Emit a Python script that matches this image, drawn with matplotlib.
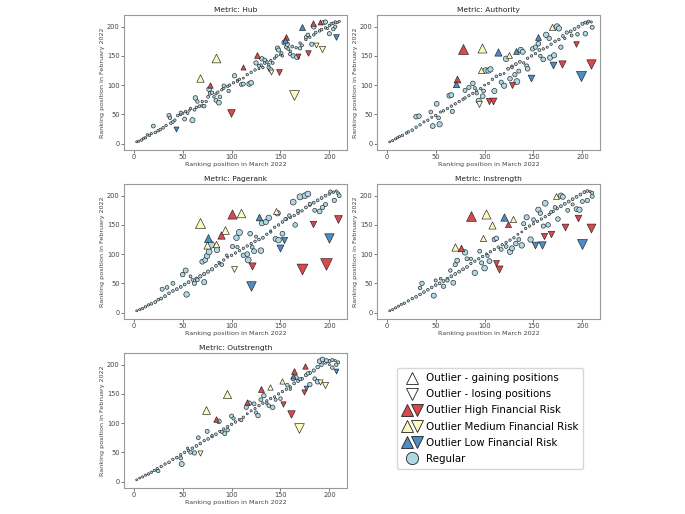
import matplotlib
matplotlib.use("Agg")
import matplotlib.pyplot as plt
from matplotlib.lines import Line2D
from matplotlib.legend_handler import HandlerTuple
import numpy as np

# ---------------- DATA ----------------
metrics = ["Hub", "Authority", "Pagerank", "Instrength", "Outstrength"]

# Regular points (March rank, February rank)
hub_reg = [(3,3),(5,4),(8,6),(10,9),(12,10),(14,15),(16,14),(18,17),(22,19),(25,22),(27,24),(30,27),(33,31),(38,35),(40,37),(42,40),(45,48),(48,50),(50,52),(53,55),(55,52),(58,60),(62,58),(64,62),(67,64),(70,72),(74,72),(76,80),(82,80),(84,85),(86,88),(90,92),(92,95),(96,98),(98,100),(102,104),(106,108),(108,110),(112,112),(116,118),(120,122),(124,126),(128,128),(130,134),(132,130),(134,138),(136,140),(138,135),(140,142),(142,138),(144,146),(146,150),(150,152),(152,150),(156,165),(158,162),(160,158),(162,166),(166,164),(170,172),(172,168),(176,178),(180,182),(184,186),(186,190),(190,193),(192,195),(196,198),(198,197),(200,202),(202,205),(204,206),(206,208),(208,207),(210,209),
           (20,30),(36,48),(37,44),(52,42),(60,40),(48,53),(57,57),(63,78),(65,72),(70,65),(72,64),(77,93),(78,86),(80,87),(84,74),(87,70),(88,80),(92,99),(97,90),(103,116),(106,106),(110,101),(112,102),(118,102),(120,104),(125,138),(128,133),(131,145),(134,143),(138,130),(140,126),(147,163),(148,160),(151,155),(154,173),(157,170),(160,153),(163,150),(167,148),(170,163),(176,182),(178,186),(182,170),(184,200),(194,207),(196,208),(200,188),(204,196),(206,200)]
auth_reg = [(3,3),(6,5),(9,8),(11,10),(13,12),(16,14),(20,18),(22,20),(26,23),(30,28),(34,32),(38,37),(42,40),(46,45),(50,48),(55,54),(58,56),(62,60),(66,64),(70,68),(74,72),(78,76),(80,78),(84,82),(88,86),(92,90),(96,94),(100,100),(104,103),(108,110),(112,115),(116,118),(120,120),(124,128),(128,132),(132,136),(136,140),(140,138),(144,146),(148,150),(152,154),(156,160),(160,162),(164,165),(168,170),(172,175),(176,178),(180,184),(184,190),(188,192),(192,196),(196,200),(200,205),(203,207),(206,209),(209,208),
            (30,46),(33,47),(45,54),(47,30),(51,68),(53,44),(54,33),(64,82),(66,83),(67,55),(80,91),(84,96),(88,103),(90,95),(92,86),(94,73),(98,81),(99,90),(101,125),(104,125),(106,127),(110,90),(117,105),(120,99),(122,145),(126,111),(128,130),(131,118),(133,106),(135,124),(137,160),(139,157),(143,133),(144,128),(149,162),(152,165),(155,171),(157,150),(160,144),(163,186),(166,180),(167,147),(171,151),(174,200),(176,197),(178,165),(182,180),(189,185),(195,187),(203,188),(205,206),(210,199)]
page_reg = [(3,3),(6,5),(9,7),(12,10),(15,13),(18,15),(22,18),(25,22),(28,24),(32,28),(36,33),(40,37),(44,40),(48,44),(52,48),(56,52),(60,56),(64,58),(68,62),(72,66),(76,70),(80,74),(84,80),(88,84),(92,90),(96,95),(100,98),(104,102),(108,106),(112,110),(116,114),(120,118),(124,122),(128,125),(132,128),(136,134),(140,138),(144,146),(148,150),(152,155),(156,160),(160,163),(164,166),(168,170),(172,174),(176,180),(180,184),(184,188),(188,192),(192,196),(196,200),(200,203),(204,206),(207,208),(209,204),
            (29,40),(34,43),(40,50),(50,65),(53,72),(54,31),(58,62),(62,50),(65,56),(70,87),(72,52),(73,90),(75,97),(77,104),(79,116),(85,107),(87,86),(90,82),(95,98),(101,113),(105,128),(108,137),(106,112),(112,98),(117,90),(116,100),(119,135),(121,112),(123,105),(125,130),(130,106),(131,153),(135,155),(138,162),(140,140),(145,126),(148,124),(147,170),(152,135),(155,160),(159,166),(163,189),(165,150),(168,174),(170,198),(175,200),(178,203),(180,186),(185,175),(190,173),(193,180),(196,185),(201,207),(205,192),(210,200)]
inst_reg = [(3,3),(6,5),(9,8),(12,11),(15,14),(18,16),(22,20),(26,24),(30,27),(34,31),(38,35),(42,39),(46,43),(50,47),(54,50),(58,54),(62,58),(66,62),(70,66),(74,70),(78,74),(82,78),(86,84),(90,88),(94,92),(98,96),(102,100),(106,104),(110,108),(114,112),(118,116),(122,120),(126,124),(130,128),(134,134),(138,138),(142,144),(146,148),(150,152),(154,156),(158,160),(162,164),(166,168),(170,173),(174,178),(178,182),(182,186),(186,190),(190,194),(194,198),(198,202),(202,206),(205,208),(208,207),(210,205),
            (36,50),(34,42),(48,29),(50,55),(55,58),(58,45),(62,55),(65,72),(68,51),(70,82),(72,89),(80,103),(82,92),(86,92),(90,68),(95,105),(97,85),(100,76),(103,97),(105,88),(110,125),(112,127),(117,108),(122,113),(126,104),(128,110),(132,118),(135,125),(138,115),(140,152),(143,163),(147,125),(150,159),(155,176),(157,170),(162,187),(160,148),(165,150),(168,172),(172,180),(175,160),(178,200),(180,198),(185,175),(190,185),(194,177),(197,176),(200,190),(205,192),(210,199)]
outs_reg = [(3,3),(6,6),(9,8),(12,11),(15,13),(18,16),(21,19),(24,22),(28,26),(32,30),(36,33),(40,38),(44,41),(48,46),(52,50),(56,53),(60,57),(64,61),(68,65),(72,70),(76,73),(80,77),(84,81),(88,86),(92,90),(96,94),(100,98),(104,102),(108,106),(112,110),(116,116),(120,121),(124,125),(128,130),(132,134),(136,138),(140,142),(144,145),(148,150),(152,154),(156,158),(160,162),(164,168),(168,172),(172,176),(176,182),(180,186),(184,190),(188,196),(192,200),(196,204),(200,206),(203,208),(206,207),(209,204),
            (25,18),(49,30),(48,40),(55,57),(58,50),(62,49),(66,75),(75,86),(80,79),(87,103),(90,85),(93,82),(96,88),(100,112),(102,108),(110,105),(115,127),(118,134),(123,133),(125,118),(127,113),(130,140),(133,147),(136,134),(138,130),(142,127),(145,140),(150,142),(157,165),(160,158),(163,176),(166,178),(170,175),(178,185),(180,166),(185,176),(188,171),(190,206),(193,209),(197,207),(200,200),(203,195),(207,200)]

# Outliers: (March rank, February rank, risk)  H=High, M=Medium, L=Low
hub_out = [(172,200,"L"),(183,206,"H"),(190,208,"H"),(156,182,"H"),(155,178,"L"),(168,150,"H"),(178,155,"H"),(186,168,"M"),(192,161,"M"),(207,183,"L"),
           (84,146,"M"),(68,113,"M"),(78,100,"H"),(99,52,"H"),(164,83,"M"),(43,25,"L"),(112,131,"H"),(126,152,"H"),(140,122,"M"),(148,122,"H")]
auth_out = [(78,161,"H"),(97,164,"M"),(96,126,"M"),(114,156,"L"),(125,151,"M"),(132,158,"L"),(155,182,"L"),(169,199,"M"),(72,110,"H"),(71,102,"L"),
            (94,67,"M"),(105,73,"H"),(109,72,"H"),(128,100,"H"),(147,112,"L"),(170,134,"L"),(179,137,"H"),(193,170,"H"),(199,115,"L"),(209,136,"H")]
page_out = [(68,153,"M"),(110,170,"M"),(100,169,"H"),(128,163,"L"),(145,174,"M"),(76,128,"L"),(89,132,"H"),(93,141,"M"),(75,115,"M"),(84,117,"M"),
            (102,75,"M"),(121,80,"H"),(120,45,"L"),(149,110,"L"),(154,124,"L"),(172,75,"H"),(197,83,"H"),(200,127,"L"),(183,151,"H"),(209,160,"H")]
inst_out = [(86,166,"H"),(101,169,"M"),(108,149,"M"),(98,128,"M"),(120,163,"L"),(129,160,"M"),(124,152,"H"),(70,113,"M"),(76,110,"H"),(173,200,"M"),
            (112,85,"H"),(115,75,"H"),(152,116,"L"),(159,115,"L"),(161,131,"H"),(168,135,"H"),(182,146,"H"),(196,162,"H"),(200,117,"L"),(209,145,"H")]
outs_out = [(74,123,"M"),(95,150,"M"),(84,107,"H"),(116,137,"H"),(130,158,"H"),(139,161,"M"),(152,172,"M"),(164,190,"H"),(175,197,"H"),(163,181,"L"),
            (68,49,"M"),(153,132,"H"),(161,116,"H"),(169,91,"M"),(174,154,"H"),(176,160,"L"),(190,170,"M"),(195,165,"M"),(207,190,"L")]

regular = [hub_reg, auth_reg, page_reg, inst_reg, outs_reg]
outliers = [hub_out, auth_out, page_out, inst_out, outs_out]

ticks = [0, 50, 100, 150, 200]
xlabel = "Ranking position in March 2022"
ylabel = "Ranking position in February 2022"

# ---------------- STYLE ----------------
risk_colors = {"H": "#d9494b", "M": "#fdf9bd", "L": "#4e8cc6"}
reg_color = "#add8e6"
edge = "#222222"

def size_of(x, y):
    return 2 + 0.6 * np.abs(np.asarray(x) - np.asarray(y))

W, H = 685, 514
fig = plt.figure(figsize=(W / 100, H / 100), dpi=100)

axw, axh = 223 / W, 135 / H
lefts = [124 / W, 377 / W]
bottoms = [1 - 150 / H, 1 - 319 / H, 1 - 488 / H]
positions = [(lefts[0], bottoms[0]), (lefts[1], bottoms[0]),
             (lefts[0], bottoms[1]), (lefts[1], bottoms[1]),
             (lefts[0], bottoms[2])]

for i, name in enumerate(metrics):
    ax = fig.add_axes([positions[i][0], positions[i][1], axw, axh])
    rx = np.array([p[0] for p in regular[i]])
    ry = np.array([p[1] for p in regular[i]])
    ax.scatter(rx, ry, s=size_of(rx, ry), c=reg_color, edgecolors=edge,
               linewidths=0.45, marker="o", zorder=2)
    for (x, y, r) in outliers[i]:
        m = "^" if y > x else "v"
        ax.scatter([x], [y], s=size_of(x, y), c=risk_colors[r], edgecolors=edge,
                   linewidths=0.45, marker=m, zorder=3)
    ax.set_xlim(-10, 218)
    ax.set_ylim(-11, 220)
    ax.set_xticks(ticks)
    ax.set_yticks(ticks)
    ax.tick_params(labelsize=4.8, colors="#444444", length=2, width=0.5, pad=1.2)
    for sp in ax.spines.values():
        sp.set_color("#999999")
        sp.set_linewidth(0.8)
    ax.set_title(f"Metric: {name}", fontsize=5.4, color="#222222", pad=2.5)
    ax.set_xlabel(xlabel, fontsize=4.6, color="#444444", labelpad=1.2)
    ax.set_ylabel(ylabel, fontsize=4.6, color="#444444", labelpad=1.5)

# ---------------- LEGEND ----------------
ms = 8.8
def tri(m, fc):
    return Line2D([], [], marker=m, ls="none", markerfacecolor=fc,
                  markeredgecolor=edge, markeredgewidth=0.6, markersize=ms)

handles = [
    tri("^", "white"),
    tri("v", "white"),
    (tri("^", risk_colors["H"]), tri("v", risk_colors["H"])),
    (tri("^", risk_colors["M"]), tri("v", risk_colors["M"])),
    (tri("^", risk_colors["L"]), tri("v", risk_colors["L"])),
    Line2D([], [], marker="o", ls="none", markerfacecolor=reg_color,
           markeredgecolor=edge, markeredgewidth=0.6, markersize=ms),
]
labels = ["Outlier - gaining positions", "Outlier - losing positions",
          "Outlier High Financial Risk", "Outlier Medium Financial Risk",
          "Outlier Low Financial Risk", "Regular"]
fig.legend(handles, labels, loc="upper left",
           bbox_to_anchor=(397 / W, 1 - 368 / H), fontsize=7.4,
           handler_map={tuple: HandlerTuple(ndivide=None, pad=0)},
           handlelength=1.9, handletextpad=0.4, labelspacing=0.6,
           borderpad=0.5, borderaxespad=0, frameon=True, fancybox=True,
           edgecolor="#cccccc")

fig.savefig("out.png", dpi=100)
